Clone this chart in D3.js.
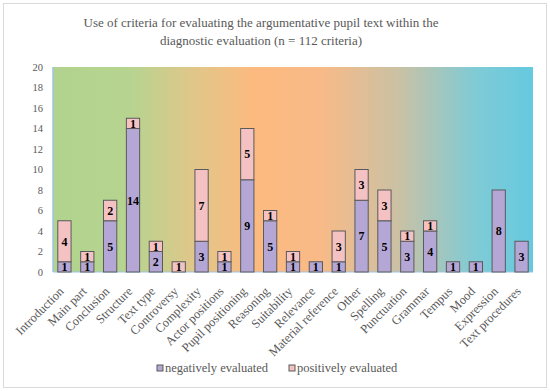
<!DOCTYPE html>
<html>
<head>
<meta charset="utf-8">
<script src="https://cdn.jsdelivr.net/npm/d3@7"></script>
<style>
  body { margin: 0; background: #fff; }
</style>
</head>
<body>
<div id="chart"></div>
<script>
const categories = ['Introduction', 'Main part', 'Conclusion', 'Structure', 'Text type', 'Controversy',
  'Complexity', 'Actor positions', 'Pupil positioning', 'Reasoning', 'Suitability', 'Relevance',
  'Material reference', 'Other', 'Spelling', 'Punctuation', 'Grammar', 'Tempus', 'Mood',
  'Expression', 'Text procedures'];
const negative = [1, 1, 5, 14, 2, 0, 3, 1, 9, 5, 1, 1, 1, 7, 5, 3, 4, 1, 1, 8, 3];
const positive = [4, 1, 2, 1, 1, 1, 7, 1, 5, 1, 1, 0, 3, 3, 3, 1, 1, 0, 0, 0, 0];
const seriesNames = ['negatively evaluated', 'positively evaluated'];
const yTicks = [0, 2, 4, 6, 8, 10, 12, 14, 16, 18, 20];

const W = 550, H = 391;
const margin = { top: 67, right: 17, bottom: 119, left: 53 },
  width = W - margin.left - margin.right,
  height = H - margin.top - margin.bottom;

const colors = { neg: '#b4a7d6', pos: '#f4c2c2', stroke: '#5a5a5a', text: '#595959' };
const serif = 'Liberation Serif';

const svg = d3.select('#chart').append('svg')
  .attr('width', W)
  .attr('height', H)
  .attr('font-family', serif);

// outer frame
svg.append('rect')
  .attr('x', 3.5).attr('y', 3.5)
  .attr('width', W - 7).attr('height', H - 7)
  .attr('fill', '#fff')
  .attr('stroke', '#d9d9d9');

// title
const titleLines = ['Use of criteria for evaluating the argumentative pupil text within the',
  'diagnostic evaluation (n = 112 criteria)'];
titleLines.forEach((t, i) => {
  svg.append('text')
    .attr('x', 261).attr('y', 26.5 + i * 18)
    .attr('text-anchor', 'middle')
    .attr('font-size', 13)
    .attr('fill', colors.text)
    .text(t);
});

// background gradient
const defs = svg.append('defs');
const grad = defs.append('linearGradient')
  .attr('id', 'bg')
  .attr('x1', '0%').attr('x2', '100%')
  .attr('y1', '0%').attr('y2', '0%');
[
  [0, '#b1d38e'], [0.16, '#b6d490'], [0.30, '#e2c689'], [0.42, '#fdba7f'],
  [0.56, '#f8ba88'], [0.72, '#cac1a4'], [0.88, '#7fcbd6'], [1, '#66c9df']
].forEach(s => grad.append('stop').attr('offset', s[0]).attr('stop-color', s[1]));

const g = svg.append('g')
  .attr('transform', 'translate(' + margin.left + ',' + margin.top + ')');

g.append('rect')
  .attr('width', width).attr('height', height)
  .attr('fill', 'url(#bg)');

const x = d3.scaleBand()
  .domain(categories)
  .range([0, width])
  .paddingInner(0.42)
  .paddingOuter(0.21);

const y = d3.scaleLinear()
  .domain([0, 20])
  .range([height, 0]);

// y axis
const yAxis = g.append('g')
  .call(d3.axisLeft(y).tickValues(yTicks).tickSize(0).tickPadding(10));
yAxis.attr('font-family', serif);
yAxis.select('.domain').remove();
yAxis.selectAll('text')
  .attr('font-size', 10.5)
  .attr('fill', colors.text);

// left / bottom light lines
g.append('line')
  .attr('x1', 0).attr('x2', 0).attr('y1', 0).attr('y2', height)
  .attr('stroke', '#9dc3e6').attr('stroke-width', 1.5);
g.append('line')
  .attr('x1', 0).attr('x2', width).attr('y1', height).attr('y2', height)
  .attr('stroke', '#9dc3e6').attr('stroke-width', 1);

// stacked bars
const rows = categories.map((c, i) => ({ cat: c, neg: negative[i], pos: positive[i] }));
const stack = d3.stack().keys(['neg', 'pos'])(rows);
const fills = [colors.neg, colors.pos];

stack.forEach((layer, li) => {
  const lg = g.append('g');
  const segs = layer.filter(d => d[1] - d[0] > 0);
  lg.selectAll('rect')
    .data(segs)
    .join('rect')
    .attr('x', d => x(d.data.cat))
    .attr('y', d => y(d[1]))
    .attr('width', x.bandwidth())
    .attr('height', d => y(d[0]) - y(d[1]))
    .attr('fill', fills[li])
    .attr('stroke', colors.stroke)
    .attr('stroke-width', 1);
  lg.selectAll('text')
    .data(segs)
    .join('text')
    .attr('x', d => x(d.data.cat) + x.bandwidth() / 2)
    .attr('y', d => (y(d[0]) + y(d[1])) / 2 + 4.3)
    .attr('text-anchor', 'middle')
    .attr('font-size', 12)
    .attr('font-weight', 'bold')
    .attr('fill', '#000')
    .text(d => d[1] - d[0]);
});

// x axis labels
const xAxis = g.append('g')
  .attr('transform', 'translate(0,' + height + ')')
  .call(d3.axisBottom(x).tickSize(0));
xAxis.attr('font-family', serif);
xAxis.select('.domain').remove();
xAxis.selectAll('text')
  .attr('font-size', 12.5)
  .attr('fill', colors.text)
  .attr('text-anchor', 'end')
  .attr('x', 0).attr('y', 0)
  .attr('dy', '0.35em')
  .attr('transform', 'translate(-3,17) rotate(-45)');

// legend
const legend = svg.append('g');
const legendX = [157, 289];
seriesNames.forEach((name, i) => {
  legend.append('rect')
    .attr('x', legendX[i]).attr('y', 365)
    .attr('width', 6).attr('height', 6)
    .attr('fill', fills[i])
    .attr('stroke', colors.stroke);
  legend.append('text')
    .attr('x', legendX[i] + 8).attr('y', 372)
    .attr('font-size', 12.5)
    .attr('fill', colors.text)
    .text(name);
});
</script>
</body>
</html>
